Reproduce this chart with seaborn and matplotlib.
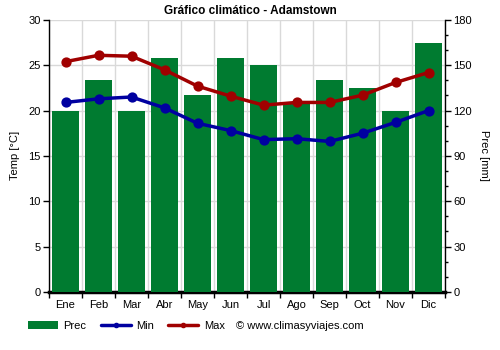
import matplotlib
matplotlib.use("Agg")
import matplotlib.pyplot as plt
import seaborn as sns
import numpy as np
from matplotlib.patches import Patch
from matplotlib.lines import Line2D

months = ["Ene", "Feb", "Mar", "Abr", "May", "Jun", "Jul", "Ago", "Sep", "Oct", "Nov", "Dic"]
prec = [120, 140, 120, 155, 130, 155, 150, 125, 140, 135, 120, 165]
tmin = [20.9, 21.3, 21.5, 20.3, 18.6, 17.8, 16.8, 16.9, 16.6, 17.5, 18.7, 20.0]
tmax = [25.4, 26.1, 26.0, 24.5, 22.7, 21.6, 20.6, 20.9, 20.9, 21.7, 23.1, 24.2]

temp_ticks = [0, 5, 10, 15, 20, 25, 30]
prec_ticks = [0, 30, 60, 90, 120, 150, 180]

green = "#007b30"
blue = "#0000a0"
red = "#a00000"

sns.set_theme(style="white")
plt.rcParams["font.family"] = ["Liberation Sans", "DejaVu Sans"]
plt.rcParams["font.size"] = 8
plt.rcParams["text.color"] = "black"
plt.rcParams["axes.labelcolor"] = "black"

fig = plt.figure(figsize=(5, 3.5), dpi=100)
# base axes holds the precipitation bars (scale shown on the right)
axp = fig.add_axes([0.098, 0.166, 0.792, 0.777])
# twin axes on top holds the temperature lines (scale shown on the left)
axt = axp.twinx()

sns.barplot(x=months, y=prec, ax=axp, color=green, saturation=1, width=0.8,
            linewidth=0, zorder=2)
axp.set_ylim(0, 180)
axp.set_xlim(-0.5, 11.5)
axp.set_yticks(prec_ticks)
axp.set_yticks(np.arange(0, 181, 10), minor=True)
axp.yaxis.tick_right()
axp.yaxis.set_label_position("right")
axp.set_ylabel("Prec [mm]", rotation=270, labelpad=12, fontsize=8)
axp.set_xlabel("")
axp.set_xticks(range(12))
axp.set_xticklabels(months, fontsize=8)
axp.set_xticks(np.arange(-0.5, 12, 1), minor=True)
axp.tick_params(axis="x", which="major", length=0, pad=6, colors="black",
                labelsize=8)
axp.tick_params(axis="x", which="minor", direction="out", length=4, width=1,
                bottom=True, colors="black")
axp.tick_params(axis="y", which="major", direction="out", length=4, width=1,
                right=True, left=False, colors="black", labelsize=8, pad=2)
axp.tick_params(axis="y", which="minor", direction="out", length=2.5, width=1,
                right=True, left=False, colors="black")
for side in ["top", "left"]:
    axp.spines[side].set_visible(False)
axp.spines["right"].set_color("black")
axp.spines["right"].set_linewidth(1)
axp.spines["bottom"].set_color("black")
axp.spines["bottom"].set_linewidth(2.5)
axp.spines["bottom"].set_zorder(1)

# grid behind the bars: horizontal at every major tick, vertical between months
axp.set_axisbelow(True)
axp.yaxis.grid(True, which="major", color="#d9d9d9", linewidth=1)
axp.xaxis.grid(True, which="minor", color="#d9d9d9", linewidth=1)
axp.xaxis.grid(False, which="major")

sns.pointplot(x=months, y=tmin, ax=axt, color=blue, markers="o",
              markersize=5.5, linewidth=2.5)
sns.pointplot(x=months, y=tmax, ax=axt, color=red, markers="o",
              markersize=5.5, linewidth=2.5)
axt.set_ylim(0, 30)
axt.set_xlim(-0.5, 11.5)
axt.set_yticks(temp_ticks)
axt.yaxis.tick_left()
axt.yaxis.set_label_position("left")
axt.set_ylabel("Temp [°C]", fontsize=8, labelpad=6)
axt.tick_params(axis="y", which="major", direction="out", length=4, width=1,
                left=True, right=False, colors="black", labelsize=8, pad=2)
axt.grid(False)
for side in ["top", "right", "bottom"]:
    axt.spines[side].set_visible(False)
axt.spines["left"].set_color("black")
axt.spines["left"].set_linewidth(1)

fig.text(0.5, 0.952, "Gráfico climático - Adamstown", ha="center",
         va="bottom", fontsize=8.5, fontweight="bold", color="black")

handles = [
    Patch(facecolor=green, edgecolor="none"),
    Line2D([0], [0], color=blue, lw=2.5, marker="o", markersize=3),
    Line2D([0], [0], color=red, lw=2.5, marker="o", markersize=3),
]
fig.legend(handles, ["Prec", "Min", "Max"], loc="center left",
           bbox_to_anchor=(0.035, 0.068), ncol=3, frameon=False, fontsize=8,
           handlelength=2.7, handletextpad=0.5, columnspacing=1.3,
           labelcolor="black")
fig.text(0.472, 0.068, "© www.climasyviajes.com", ha="left", va="center",
         fontsize=8, color="black")

fig.savefig("out.png", dpi=100)
